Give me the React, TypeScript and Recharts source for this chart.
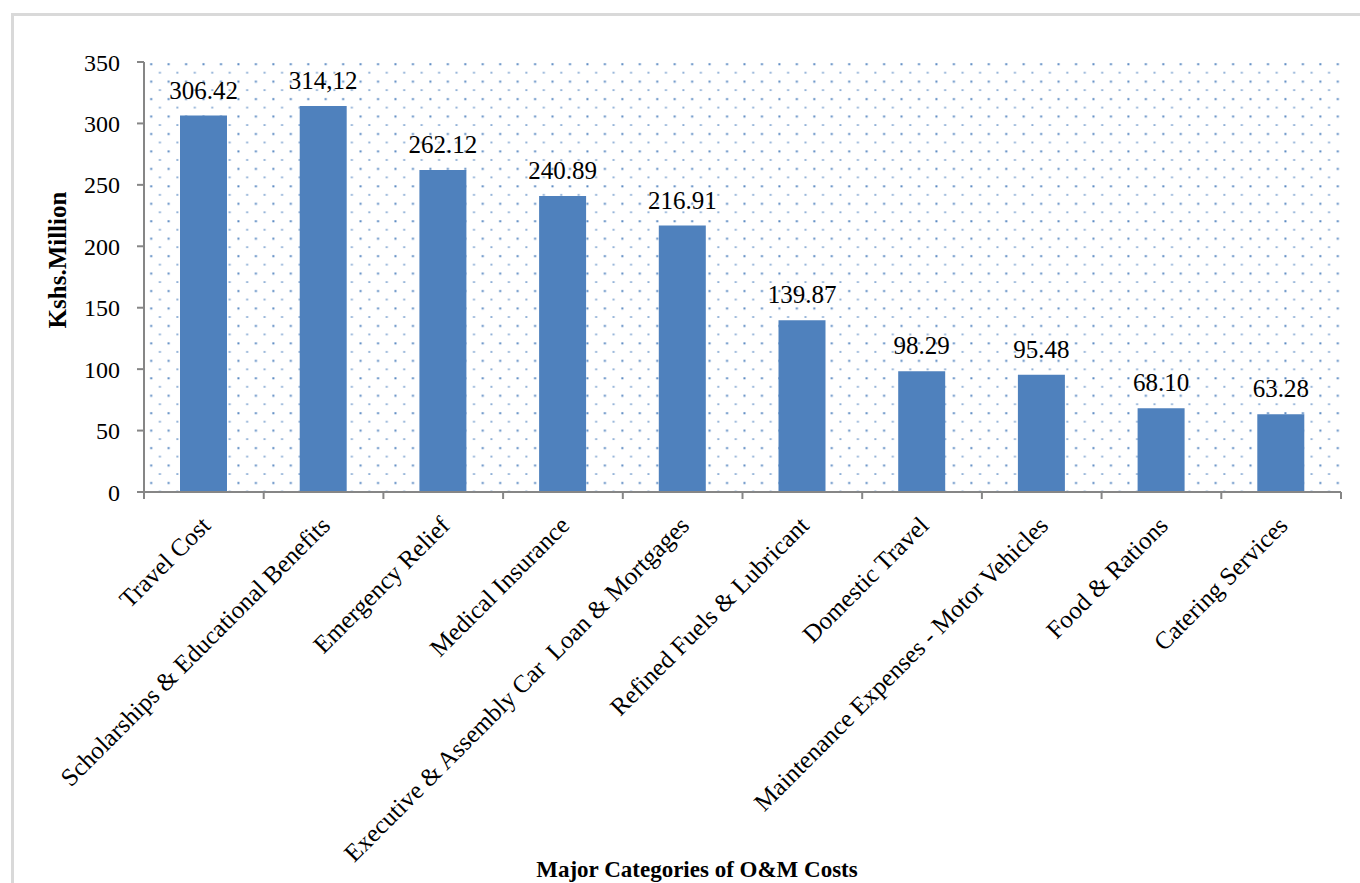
import { BarChart, Bar, XAxis, YAxis, CartesianGrid, LabelList } from "recharts";

const CATEGORIES = [
  "Travel Cost",
  "Scholarships & Educational Benefits",
  "Emergency Relief",
  "Medical Insurance",
  "Executive & Assembly Car  Loan & Mortgages",
  "Refined Fuels & Lubricant",
  "Domestic Travel",
  "Maintenance Expenses - Motor Vehicles",
  "Food & Rations",
  "Catering Services",
];

const VALUES = [306.42, 314.12, 262.12, 240.89, 216.91, 139.87, 98.29, 95.48, 68.1, 63.28];

const VALUE_LABELS = ["306.42", "314,12", "262.12", "240.89", "216.91", "139.87", "98.29", "95.48", "68.10", "63.28"];

const Y_TICKS = [0, 50, 100, 150, 200, 250, 300, 350];

const data = CATEGORIES.map((name, i) => ({ name, value: VALUES[i], label: VALUE_LABELS[i] }));

const FONT = '"Liberation Serif", "Times New Roman", serif';
const AXIS = "#868686";
const BLUE = "#4f81bd";

const W = 1360;
const H = 883;
const PLOT_LEFT = 144;
const PLOT_TOP = 62;
const PLOT_RIGHT = 1341;
const PLOT_BOTTOM = 492;
const BAND = (PLOT_RIGHT - PLOT_LEFT) / CATEGORIES.length;

function CategoryTick(props: any) {
  const { x, y, payload } = props;
  const index = props.index ?? payload?.index ?? 0;
  const half = BAND / 2;
  return (
    <g>
      <line x1={x - half} x2={x - half} y1={y} y2={y + 7} stroke={AXIS} strokeWidth={2} />
      {index === CATEGORIES.length - 1 && (
        <line x1={x + half} x2={x + half} y1={y} y2={y + 7} stroke={AXIS} strokeWidth={2} />
      )}
      <text
        transform={`translate(${x + 8},${y + 35}) rotate(-45)`}
        textAnchor="end"
        fontSize={25}
        fontFamily={FONT}
        fill="#000"
        style={{ whiteSpace: "pre" }}
      >
        {payload.value}
      </text>
    </g>
  );
}

export default function App() {
  return (
    <div style={{ position: "absolute", left: 0, top: 0, width: W, height: H, overflow: "hidden", background: "#fff" }}>
      <div
        style={{
          position: "absolute",
          left: 11,
          top: 13,
          width: W,
          height: H,
          borderTop: "3px solid #d9d9d9",
          borderLeft: "3px solid #d9d9d9",
        }}
      />
      <div style={{ position: "absolute", left: 0, top: 0 }}>
        <BarChart
          width={W}
          height={H}
          data={data}
          margin={{ top: PLOT_TOP, right: W - PLOT_RIGHT, left: 0, bottom: 0 }}
        >
          <defs>
            <pattern id="dots" patternUnits="userSpaceOnUse" x={PLOT_LEFT} y={PLOT_TOP} width={17.45} height={17.45}>
              <rect x={6.2} y={1.2} width={2} height={2} fill={BLUE} opacity={0.95} />
              <rect x={14.9} y={9.9} width={2} height={1.6} fill={BLUE} opacity={0.75} />
            </pattern>
          </defs>
          <CartesianGrid horizontal={false} vertical={false} fill="url(#dots)" stroke="none" />
          <XAxis
            dataKey="name"
            interval={0}
            height={H - PLOT_BOTTOM}
            tickLine={false}
            tickSize={0}
            tickMargin={0}
            axisLine={{ stroke: AXIS, strokeWidth: 2 }}
            tick={<CategoryTick />}
            label={{
              content: () => (
                <text x={697} y={877} textAnchor="middle" fontSize={23} fontWeight="bold" fontFamily={FONT} fill="#000">
                  Major Categories of O&amp;M Costs
                </text>
              ),
            }}
          />
          <YAxis
            width={PLOT_LEFT}
            domain={[0, 350]}
            ticks={Y_TICKS}
            interval={0}
            tickSize={7}
            tickMargin={17}
            tickLine={{ stroke: AXIS, strokeWidth: 2 }}
            axisLine={{ stroke: AXIS, strokeWidth: 2 }}
            tick={{ fill: "#000", fontSize: 24, fontFamily: FONT }}
            label={{
              content: () => (
                <text
                  x={66}
                  y={260}
                  transform="rotate(-90, 66, 260)"
                  textAnchor="middle"
                  fontSize={25}
                  fontWeight="bold"
                  fontFamily={FONT}
                  fill="#000"
                >
                  Kshs.Million
                </text>
              ),
            }}
          />
          <Bar dataKey="value" fill={BLUE} barSize={47} isAnimationActive={false}>
            <LabelList dataKey="label" position="top" offset={17} fill="#000" fontSize={25} fontFamily={FONT} />
          </Bar>
        </BarChart>
      </div>
    </div>
  );
}
